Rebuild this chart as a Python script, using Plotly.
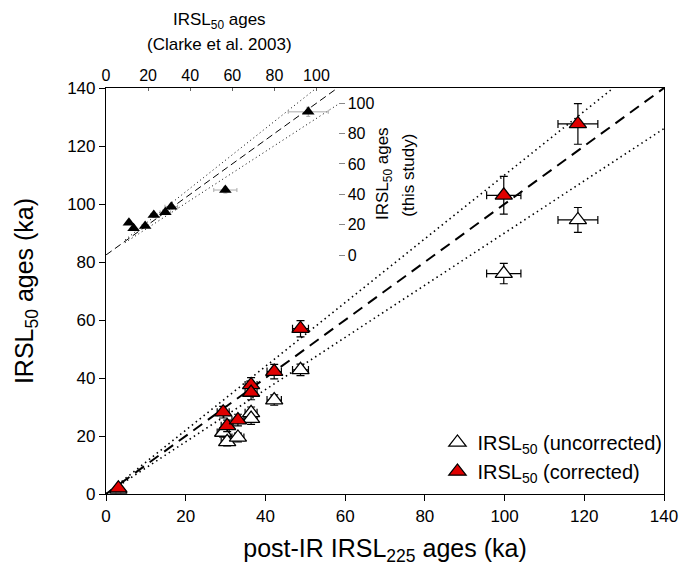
import plotly.graph_objects as go

# Main panel: post-IR IRSL225 ages vs IRSL50 ages (ka)
pirir225 = [3.1, 29.4, 30.4, 33.1, 36.4, 36.4, 42.2, 48.8, 99.8, 118.4]
pirir225_err = [0.6, 1.5, 1.5, 1.5, 1.5, 1.5, 1.8, 2.0, 4.3, 5.0]
irsl50_corr = [2.0, 28.2, 23.5, 25.5, 37.6, 35.0, 42.2, 57.0, 103.0, 127.6]
irsl50_corr_err = [0.6, 2.0, 2.0, 2.0, 2.5, 2.5, 2.5, 2.8, 6.5, 7.0]
irsl50_unc = [1.6, 21.2, 18.0, 19.5, 28.0, 26.0, 32.4, 42.8, 76.0, 94.5]
irsl50_unc_err = [0.6, 1.6, 1.4, 1.5, 2.0, 2.0, 1.8, 2.0, 3.5, 4.3]

# Inset: Clarke et al. (2003) IRSL50 ages vs this study
clarke = [10.9, 13.1, 18.6, 22.7, 28.2, 31.0, 56.7, 96.1]
clarke_err = [1.0, 1.0, 1.5, 1.5, 2.5, 3.0, 5.5, 9.5]
study = [21.3, 17.6, 19.1, 26.3, 28.1, 31.8, 42.8, 94.3]
study_err = [1.0, 1.0, 1.0, 1.5, 1.5, 1.5, 2.0, 3.0]

# Reference lines: 1:1 and +/-10 %
main_range = [0, 140]
inset_range = [0, 110]
ratio_hi, ratio_lo = 1.1, 0.9

FONT = "Liberation Sans, Arial, sans-serif"
RED = "#e00000"

fig = go.Figure()

# main 1:1 and 10% envelopes
fig.add_trace(go.Scatter(x=main_range, y=main_range, mode="lines",
                         line=dict(color="black", width=2, dash="11px,7px"),
                         showlegend=False, hoverinfo="skip"))
fig.add_trace(go.Scatter(x=[0, main_range[1] / ratio_hi], y=[0, main_range[1]], mode="lines",
                         line=dict(color="black", width=1.6, dash="1.5px,3.5px"),
                         showlegend=False, hoverinfo="skip"))
fig.add_trace(go.Scatter(x=main_range, y=[0, main_range[1] * ratio_lo], mode="lines",
                         line=dict(color="black", width=1.6, dash="1.5px,3.5px"),
                         showlegend=False, hoverinfo="skip"))

fig.add_trace(go.Scatter(
    x=pirir225, y=irsl50_unc, mode="markers",
    name="IRSL<sub>50</sub> (uncorrected)",
    marker=dict(symbol="triangle-up", size=15, color="white",
                line=dict(color="black", width=1.3)),
    error_x=dict(type="data", array=pirir225_err, color="black", thickness=1.2, width=4),
    error_y=dict(type="data", array=irsl50_unc_err, color="black", thickness=1.2, width=4),
))
fig.add_trace(go.Scatter(
    x=pirir225, y=irsl50_corr, mode="markers",
    name="IRSL<sub>50</sub> (corrected)",
    marker=dict(symbol="triangle-up", size=15, color=RED,
                line=dict(color="black", width=1.3)),
    error_x=dict(type="data", array=pirir225_err, color="black", thickness=1.2, width=4),
    error_y=dict(type="data", array=irsl50_corr_err, color="black", thickness=1.2, width=4),
))

# inset lines
fig.add_trace(go.Scatter(x=inset_range, y=inset_range, mode="lines", xaxis="x2", yaxis="y2",
                         line=dict(color="black", width=1, dash="7px,4px"),
                         showlegend=False, hoverinfo="skip"))
fig.add_trace(go.Scatter(x=[9, inset_range[1] / ratio_hi], y=[9 * ratio_hi, inset_range[1]],
                         mode="lines", xaxis="x2", yaxis="y2",
                         line=dict(color="black", width=1, dash="1px,3px"),
                         showlegend=False, hoverinfo="skip"))
fig.add_trace(go.Scatter(x=[9, inset_range[1]], y=[9 * ratio_lo, inset_range[1] * ratio_lo],
                         mode="lines", xaxis="x2", yaxis="y2",
                         line=dict(color="black", width=1, dash="1px,3px"),
                         showlegend=False, hoverinfo="skip"))
fig.add_trace(go.Scatter(
    x=clarke, y=study, mode="markers", xaxis="x2", yaxis="y2", showlegend=False,
    marker=dict(symbol="triangle-up", size=11, color="black"),
    error_x=dict(type="data", array=clarke_err, color="#aaaaaa", thickness=1, width=2),
    error_y=dict(type="data", array=study_err, color="#aaaaaa", thickness=1, width=2),
))

tick_font = dict(family=FONT, size=17, color="black")
inset_font = dict(family=FONT, size=16, color="black")


def px_x(px):
    return (px - 106) / 564


def px_y(py):
    return (494 - py) / 406


fig.update_layout(
    width=690, height=580,
    margin=dict(l=106, r=20, t=88, b=86),
    paper_bgcolor="white", plot_bgcolor="white",
    font=dict(family=FONT, color="black"),
    xaxis=dict(range=main_range, dtick=20, showline=True, linecolor="black", linewidth=1.2,
               mirror=True, ticks="outside", ticklen=6, tickcolor="black", showgrid=False,
               zeroline=False, tickfont=tick_font,
               title=dict(text="post-IR IRSL<sub>225</sub> ages (ka)",
                          font=dict(family=FONT, size=25), standoff=14)),
    yaxis=dict(range=main_range, dtick=20, showline=True, linecolor="black", linewidth=1.2,
               mirror=True, ticks="outside", ticklen=6, tickcolor="black", showgrid=False,
               zeroline=False, tickfont=tick_font,
               title=dict(text="IRSL<sub>50</sub> ages (ka)",
                          font=dict(family=FONT, size=25), standoff=26)),
    xaxis2=dict(domain=[0, 234 / 564], anchor="y2", side="top", range=inset_range,
                tickvals=[0, 20, 40, 60, 80, 100], showline=True, linecolor="black",
                linewidth=1.2, ticks="inside", ticklen=3, tickcolor="#666666",
                showgrid=False, zeroline=False, tickfont=inset_font),
    yaxis2=dict(domain=[239 / 406, 1], anchor="x2", side="right", range=inset_range,
                tickvals=[0, 20, 40, 60, 80, 100], showline=False, ticks="outside",
                ticklen=6, tickcolor="#888888", showgrid=False, zeroline=False,
                tickfont=inset_font),
    legend=dict(x=0.594, y=0.175, xanchor="left", yanchor="top",
                font=dict(family=FONT, size=20, color="black"),
                bgcolor="rgba(0,0,0,0)", tracegroupgap=0),
    annotations=[
        dict(text="IRSL<sub>50</sub> ages", xref="paper", yref="paper",
             x=px_x(221), y=px_y(21), xanchor="center", yanchor="middle",
             showarrow=False, font=dict(family=FONT, size=17)),
        dict(text="(Clarke et al. 2003)", xref="paper", yref="paper",
             x=px_x(221), y=px_y(45), xanchor="center", yanchor="middle",
             showarrow=False, font=dict(family=FONT, size=17)),
        dict(text="IRSL<sub>50</sub> ages", xref="paper", yref="paper",
             x=px_x(387), y=px_y(174), xanchor="center", yanchor="middle",
             showarrow=False, textangle=-90, font=dict(family=FONT, size=17)),
        dict(text="(this study)", xref="paper", yref="paper",
             x=px_x(411), y=px_y(175), xanchor="center", yanchor="middle",
             showarrow=False, textangle=-90, font=dict(family=FONT, size=17)),
    ],
)

fig.write_html("out.html")
